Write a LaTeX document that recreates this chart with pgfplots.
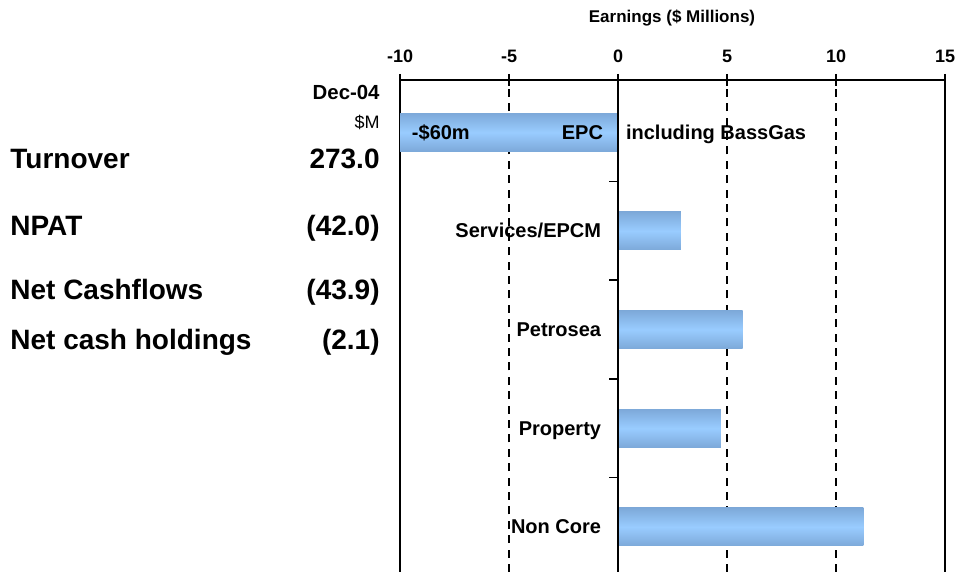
\documentclass[border=0pt]{standalone}
\usepackage{fontspec}
\setmainfont{Liberation Sans}
\usepackage{pgfplots}
\pgfplotsset{compat=1.18}
\definecolor{barmid}{HTML}{99CCFF}
\definecolor{baredge}{HTML}{7DA9D9}
\newcommand{\fs}[1]{\fontsize{#1}{#1}\selectfont}
\pgfplotsset{mybar/.style={xbar, bar width=0.386, draw=none, top color=baredge, bottom color=baredge, middle color=barmid, forget plot}}
\begin{document}
\begin{tikzpicture}
\path[use as bounding box] (0,0) rectangle (478.5pt,286pt);
\begin{axis}[
 at={(200pt,0pt)}, anchor=south west,
 scale only axis, width=272.5pt, height=246pt,
 xmin=-10, xmax=15, ymin=0.543, ymax=5.53,
 axis x line=top, axis y line=box,
 every outer x axis line/.append style={-},
 every outer y axis line/.append style={-},
 axis line style={black, line width=1.1pt},
 xtick={-10,-5,0,5,10,15},
 xticklabels={-10,-5,0,5,10,15},
 ytick=\empty,
 tick align=center, major tick length=6pt,
 tick style={black, line width=1pt},
 xticklabel style={font=\bfseries\fs{9}, yshift=2pt},
 xmajorgrids,
 major grid style={black, line width=1pt, dash pattern=on 4pt off 3.2pt},
 clip=true,
]
\addplot[mybar] coordinates {(-60,5)};
\addplot[mybar] coordinates {(2.88,4)};
\addplot[mybar] coordinates {(5.71,3)};
\addplot[mybar] coordinates {(4.72,2)};
\addplot[mybar] coordinates {(11.25,1)};
\draw[black, line width=0.8pt] (axis cs:0,0.543) -- (axis cs:0,5.53);
\draw[black, line width=0.8pt] (axis cs:-0.4,1.5) -- (axis cs:0,1.5);
\draw[black, line width=0.8pt] (axis cs:-0.4,2.5) -- (axis cs:0,2.5);
\draw[black, line width=0.8pt] (axis cs:-0.4,3.5) -- (axis cs:0,3.5);
\draw[black, line width=0.8pt] (axis cs:-0.4,4.5) -- (axis cs:0,4.5);
\node[anchor=base west, inner sep=0, font=\bfseries\fs{10}] at (axis cs:-9.47,4.93) {-\$60m};
\node[anchor=base east, inner sep=0, font=\bfseries\fs{10}] at (axis cs:-0.67,4.93) {EPC};
\node[anchor=base west, inner sep=0, font=\bfseries\fs{10}] at (axis cs:0.35,4.93) {including BassGas};
\node[anchor=base east, inner sep=0, font=\bfseries\fs{10}] at (axis cs:-0.76,3.93) {Services/EPCM};
\node[anchor=base east, inner sep=0, font=\bfseries\fs{10}] at (axis cs:-0.76,2.93) {Petrosea};
\node[anchor=base east, inner sep=0, font=\bfseries\fs{10}] at (axis cs:-0.76,1.93) {Property};
\node[anchor=base east, inner sep=0, font=\bfseries\fs{10}] at (axis cs:-0.76,0.93) {Non Core};
\end{axis}
\node[inner sep=0, font=\bfseries\fs{8.5}] at (336pt,277pt) {Earnings (\$ Millions)};
\node[anchor=base east, inner sep=0, font=\bfseries\fs{10.2}] at (190pt,236pt) {Dec-04};
\node[anchor=base east, inner sep=0, font=\fs{9}] at (190pt,221.5pt) {\$M};
\node[anchor=base west, inner sep=0, font=\bfseries\fs{14}] at (5pt,201.5pt) {Turnover};
\node[anchor=base west, inner sep=0, font=\bfseries\fs{14}] at (5pt,168pt) {NPAT};
\node[anchor=base west, inner sep=0, font=\bfseries\fs{14}] at (5pt,136pt) {Net Cashflows};
\node[anchor=base west, inner sep=0, font=\bfseries\fs{14}] at (5pt,111pt) {Net cash holdings};
\node[anchor=base east, inner sep=0, font=\bfseries\fs{14}] at (190pt,201.5pt) {273.0};
\node[anchor=base east, inner sep=0, font=\bfseries\fs{14}] at (190pt,168pt) {(42.0)};
\node[anchor=base east, inner sep=0, font=\bfseries\fs{14}] at (190pt,136pt) {(43.9)};
\node[anchor=base east, inner sep=0, font=\bfseries\fs{14}] at (190pt,111pt) {(2.1)};
\end{tikzpicture}
\end{document}
